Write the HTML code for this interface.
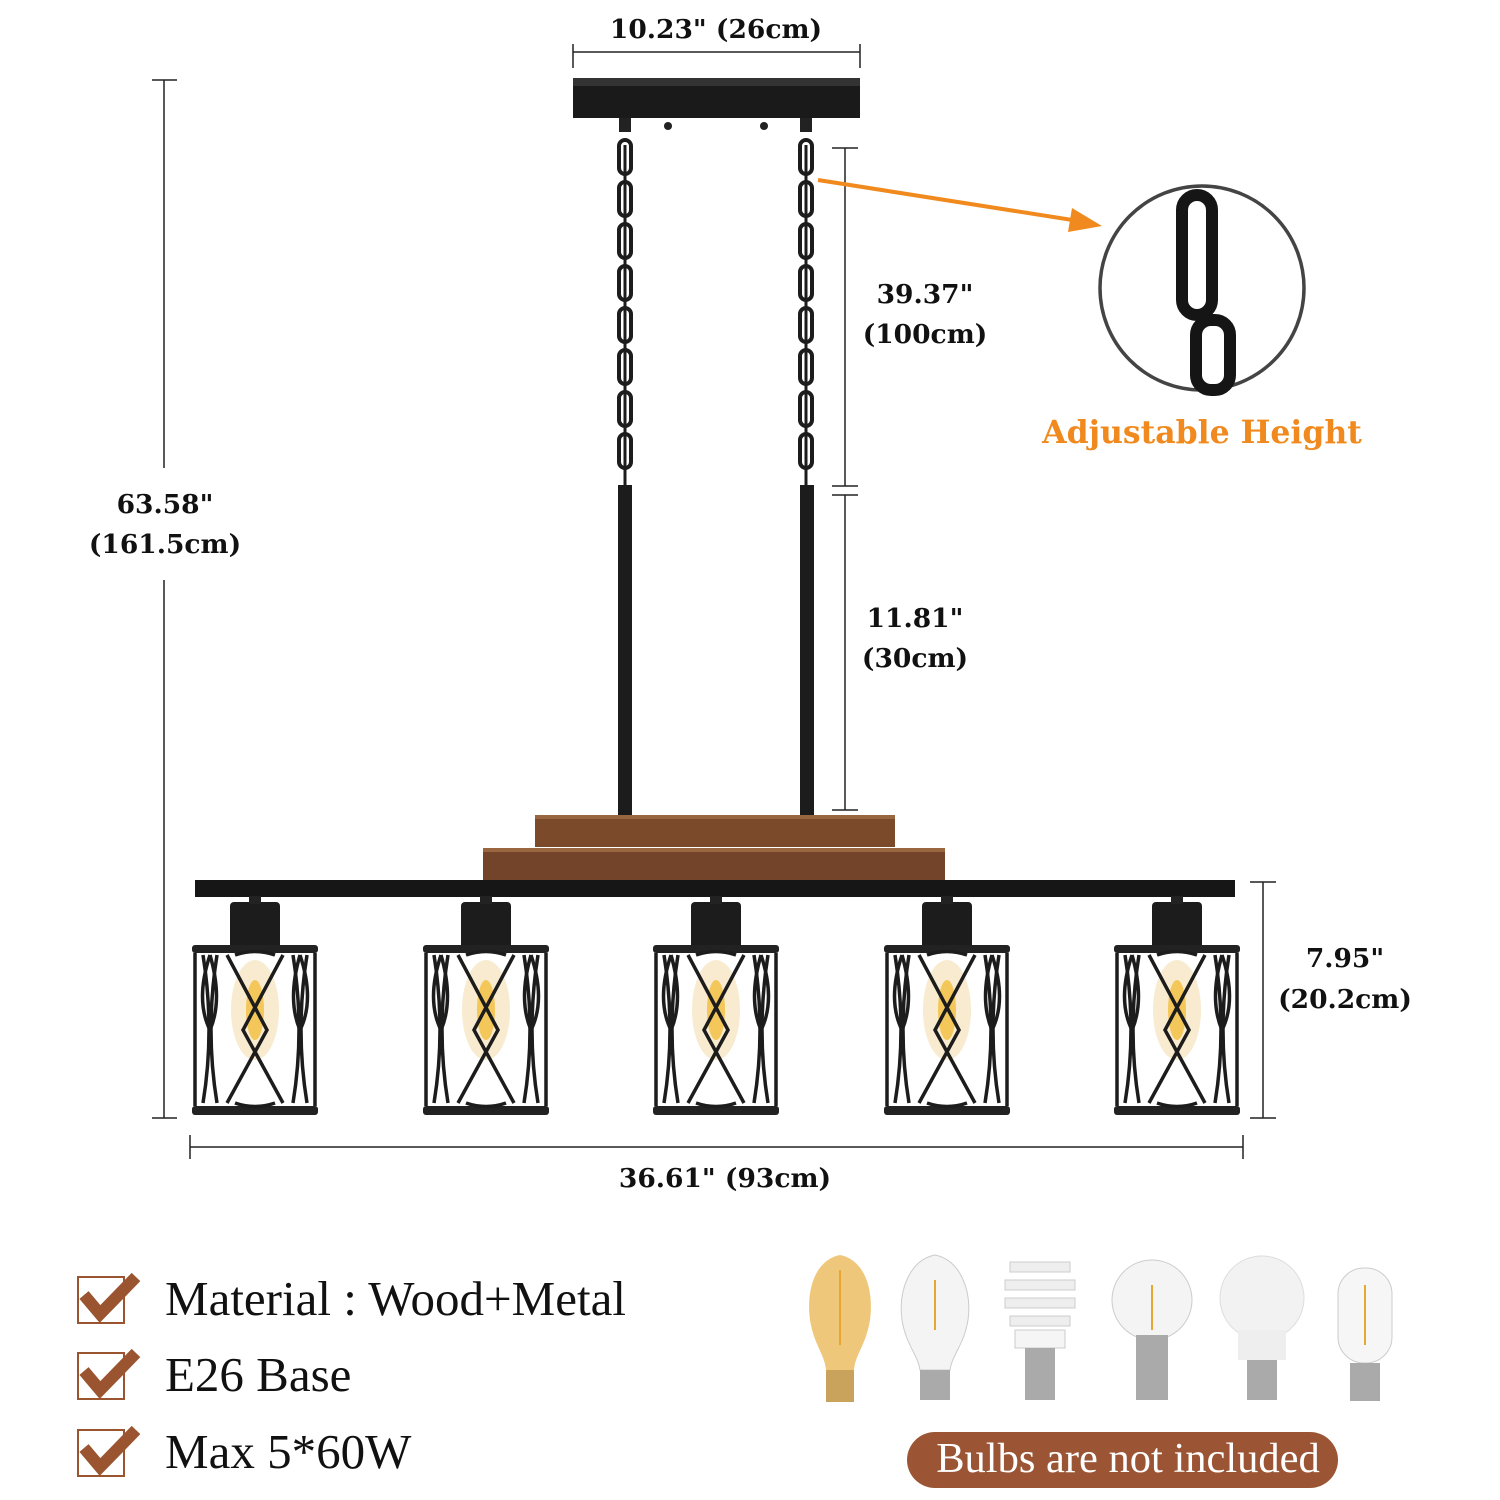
<!DOCTYPE html>
<html><head><meta charset="utf-8"><style>
html,body{margin:0;padding:0;background:#fff}
svg{display:block}
.d{font-family:"DejaVu Serif","Liberation Serif",serif;font-weight:bold;font-size:26.5px;fill:#111;text-anchor:middle}
.l{font-family:"Liberation Serif",serif;font-size:49px;fill:#111}
</style></head><body>
<svg width="1500" height="1500" viewBox="0 0 1500 1500" xmlns="http://www.w3.org/2000/svg">
<defs>
<g id="cage">
  <rect x="-25" y="902" width="50" height="48" rx="4" fill="#1c1c1c"/>
  <rect x="-6" y="896" width="12" height="8" fill="#222"/>
  <ellipse cx="0" cy="1010" rx="24" ry="50" fill="#f6e6c4" opacity="0.8"/>
  <ellipse cx="0" cy="1010" rx="9" ry="30" fill="#f4c75a"/>
  <rect x="-63" y="945" width="126" height="8" rx="3" fill="#222"/>
  <rect x="-63" y="1106" width="126" height="9" rx="3" fill="#222"/>
  <g fill="none" stroke="#1c1c1c" stroke-width="3.5">
    <path d="M-60 953 V1106 M60 953 V1106"/>
    <path d="M-52 955 Q-40 1030 -52 1103 M-38 955 Q-50 1030 -38 1103"/>
    <path d="M52 955 Q40 1030 52 1103 M38 955 Q50 1030 38 1103"/>
    <path d="M-28 955 L12 1030 L-28 1103 M28 955 L-12 1030 L28 1103"/>
    <path d="M-20 955 Q0 948 20 955 M-20 1103 Q0 1110 20 1103"/>
    <path d="M-45 955 Q-60 1000 -45 1030 Q-32 1000 -45 955 M45 955 Q60 1000 45 1030 Q32 1000 45 955"/>
  </g>
</g>
<g id="chain" fill="none" stroke="#1c1c1c" stroke-width="4">
  <rect x="-6" y="0" width="12" height="34" rx="6"/>
</g>
</defs>

<g stroke="#222" stroke-width="1.5" fill="none">
<path d="M573 52 H860 M573 44 V68 M860 44 V68"/>
<path d="M164 80 V468 M164 580 V1118 M152 80 H177 M152 1118 H177"/>
<path d="M845 148 V486 M845 495 V810 M832 148 H858 M832 486 H858 M832 495 H858 M832 810 H858"/>
<path d="M1263 882 V1118 M1250 882 H1276 M1250 1118 H1276"/>
<path d="M190 1147 H1243 M190 1135 V1159 M1243 1135 V1159"/>
</g>
<text class="d" x="716" y="38">10.23" (26cm)</text>
<text class="d" x="165" y="513">63.58"</text>
<text class="d" x="165" y="553">(161.5cm)</text>
<text class="d" x="925" y="303">39.37"</text>
<text class="d" x="925" y="343">(100cm)</text>
<text class="d" x="915" y="627">11.81"</text>
<text class="d" x="915" y="667">(30cm)</text>
<text class="d" x="1345" y="967">7.95"</text>
<text class="d" x="1345" y="1008">(20.2cm)</text>
<text class="d" x="725" y="1187">36.61" (93cm)</text>

<rect x="573" y="78" width="287" height="40" fill="#1a1a1a"/>
<rect x="573" y="78" width="287" height="8" fill="#333"/>
<circle cx="668" cy="126" r="4" fill="#222"/><circle cx="764" cy="126" r="4" fill="#222"/>
<rect x="619" y="118" width="12" height="14" fill="#222"/><rect x="800" y="118" width="12" height="14" fill="#222"/>
<g>
<use href="#chain" x="625" y="140"/><use href="#chain" x="625" y="182"/><use href="#chain" x="625" y="224"/><use href="#chain" x="625" y="266"/><use href="#chain" x="625" y="308"/><use href="#chain" x="625" y="350"/><use href="#chain" x="625" y="392"/><use href="#chain" x="625" y="434"/>
<use href="#chain" x="806" y="140"/><use href="#chain" x="806" y="182"/><use href="#chain" x="806" y="224"/><use href="#chain" x="806" y="266"/><use href="#chain" x="806" y="308"/><use href="#chain" x="806" y="350"/><use href="#chain" x="806" y="392"/><use href="#chain" x="806" y="434"/>
<path d="M625 145 V490 M806 145 V490" stroke="#1c1c1c" stroke-width="3"/>
</g>
<rect x="618" y="485" width="14" height="332" fill="#1c1c1c"/>
<rect x="800" y="485" width="14" height="332" fill="#1c1c1c"/>
<rect x="535" y="815" width="360" height="32" fill="#7b4a2b"/>
<rect x="483" y="848" width="462" height="34" fill="#74442a"/>
<rect x="535" y="815" width="360" height="4" fill="#9a6640"/>
<rect x="483" y="848" width="462" height="4" fill="#9a6640"/>
<rect x="195" y="880" width="1040" height="17" fill="#161616"/>
<use href="#cage" x="255"/><use href="#cage" x="486"/><use href="#cage" x="716"/><use href="#cage" x="947"/><use href="#cage" x="1177"/>

<path d="M818 180 L1085 222" stroke="#f08a1e" stroke-width="4"/>
<path d="M1102 226 L1072 208 L1068 232 Z" fill="#f08a1e"/>
<circle cx="1202" cy="288" r="102" fill="#fff" stroke="#444" stroke-width="3.5"/>
<g fill="none" stroke="#151515" stroke-width="12">
<rect x="1182" y="195" width="30" height="120" rx="15"/>
<rect x="1196" y="320" width="34" height="70" rx="15"/>
</g>
<text x="1202" y="443" text-anchor="middle" style="font-family:'DejaVu Serif',serif;font-weight:bold;font-size:31.5px;fill:#f08a1e">Adjustable Height</text>

<g>
<g stroke="#9a5530" fill="none" stroke-width="2"><rect x="78" y="1277" width="46" height="46"/><rect x="78" y="1353" width="46" height="46"/><rect x="78" y="1430" width="46" height="46"/></g>
<g stroke="#9a5530" stroke-width="12" fill="none" stroke-linecap="butt">
<path d="M84 1295 L100 1314 L136 1277"/><path d="M84 1371 L100 1390 L136 1353"/><path d="M84 1448 L100 1467 L136 1430"/>
</g>
</g>
<text class="l" x="165" y="1315">Material : Wood+Metal</text>
<text class="l" x="165" y="1391">E26 Base</text>
<text class="l" x="165" y="1468">Max 5*60W</text>

<g>
<path d="M840 1255 C815 1260 806 1290 810 1320 C814 1345 825 1355 826 1370 H854 C855 1355 866 1345 870 1320 C874 1290 865 1260 840 1255Z" fill="#efc77a"/>
<rect x="826" y="1370" width="28" height="32" fill="#c9a25c"/>
<path d="M935 1255 C910 1260 898 1290 902 1320 C906 1345 918 1355 920 1370 H950 C952 1355 964 1345 968 1320 C972 1290 960 1260 935 1255Z" fill="#f4f4f4" stroke="#ccc"/>
<rect x="920" y="1370" width="30" height="30" fill="#aaa"/>
<path d="M1010 1262 h60 v10 h-60z M1005 1280 h70 v10 h-70z M1005 1298 h70 v10 h-70z M1010 1316 h60 v10 h-60z" fill="#eee" stroke="#ccc"/>
<rect x="1015" y="1330" width="50" height="18" fill="#f5f5f5" stroke="#ccc"/>
<rect x="1025" y="1348" width="30" height="52" fill="#aaa"/>
<circle cx="1152" cy="1300" r="40" fill="#f4f4f4" stroke="#ccc"/>
<rect x="1136" y="1335" width="32" height="65" fill="#aaa"/>
<circle cx="1262" cy="1298" r="42" fill="#f2f2f2" stroke="#ddd"/>
<rect x="1238" y="1330" width="48" height="30" fill="#eee"/>
<rect x="1247" y="1360" width="30" height="40" fill="#aaa"/>
<rect x="1338" y="1268" width="54" height="95" rx="26" fill="#f6f6f6" stroke="#ccc"/>
<rect x="1350" y="1363" width="30" height="38" fill="#aaa"/>
<g stroke="#e6a830" stroke-width="2"><path d="M935 1280 V1330 M1152 1285 V1330 M1365 1285 V1345 M840 1270 V1345"/></g>
</g>
<rect x="907" y="1432" width="431" height="56" rx="28" fill="#9b5535"/>
<text x="1128" y="1472" text-anchor="middle" style="font-family:'Liberation Serif',serif;font-size:42.5px;fill:#fff">Bulbs are not included</text>
</svg>
</body></html>
